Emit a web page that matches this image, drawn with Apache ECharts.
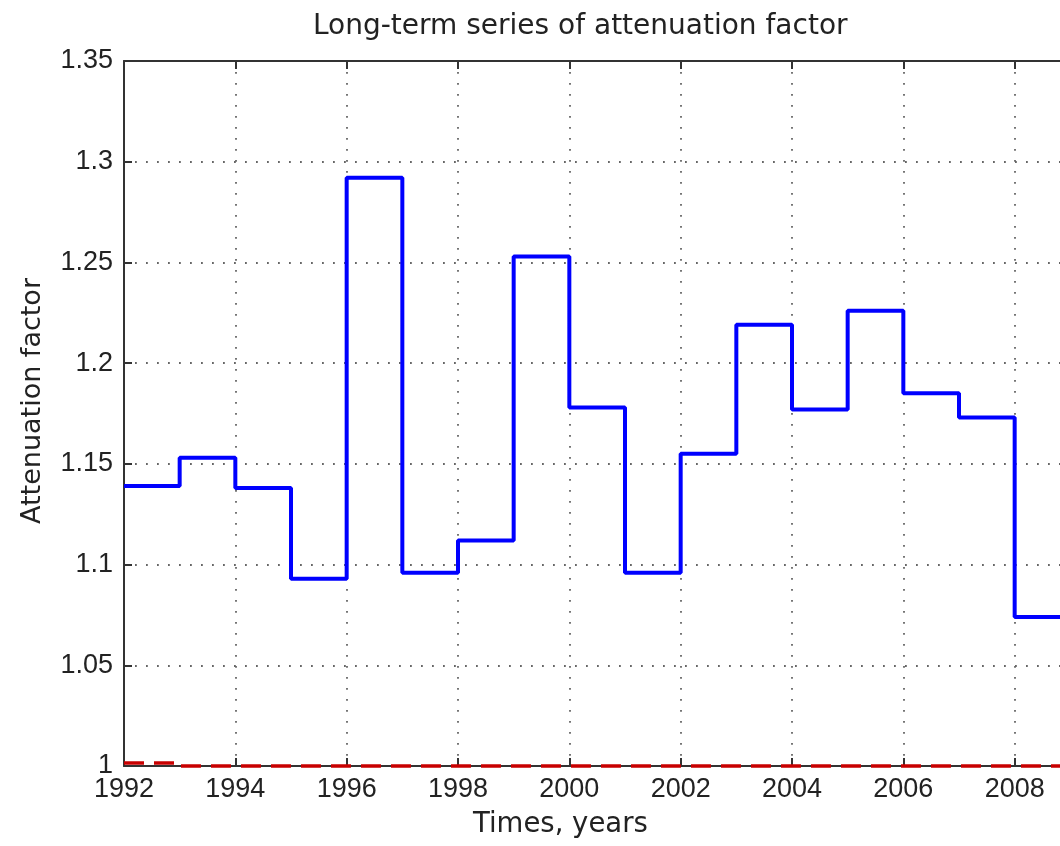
<!DOCTYPE html>
<html>
<head>
<meta charset="utf-8">
<script src="https://cdn.jsdelivr.net/npm/echarts@6/dist/echarts.min.js"></script>
<style>
  html, body { margin: 0; padding: 0; background: #fff; }
  #chart { width: 1060px; height: 846px; }
</style>
</head>
<body>
<div id="chart"></div>
<script>
// step start years (last entry closes the final step)
const years = [1992, 1993, 1994, 1995, 1996, 1997, 1998, 1999, 2000, 2001, 2002, 2003, 2004, 2005, 2006, 2007, 2008, 2010];
// attenuation factor for each yearly step
const attenuation = [1.139, 1.153, 1.138, 1.093, 1.292, 1.096, 1.112, 1.253, 1.178, 1.096, 1.155, 1.219, 1.177, 1.226, 1.185, 1.173, 1.074, 1.074];
// reference level (red dashed)
const reference = [1.0015, 1, 1, 1, 1, 1, 1, 1, 1, 1, 1, 1, 1, 1, 1, 1, 1, 1];

const titleText = 'Long-term series of attenuation factor';
const xName = 'Times, years';
const yName = 'Attenuation factor';

const chart = echarts.init(document.getElementById('chart'));

const axisColor = '#333';
const gridLine = { show: true, lineStyle: { color: '#666', width: 1.8, type: [1.8, 9.2] } };
const tickFont = { fontFamily: 'Liberation Sans', fontSize: 27, color: '#222' };

chart.setOption({
  backgroundColor: '#fff',
  animation: false,
  title: {
    text: titleText,
    left: 308,
    top: 8,
    textStyle: { fontFamily: 'DejaVu Sans', fontSize: 28, fontWeight: 'normal', color: '#222' },
  },
  grid: { left: 124, top: 61, bottom: 80, width: 1002, outerBoundsMode: 'none', containLabel: false },
  xAxis: [
    {
      type: 'value',
      min: 1992,
      max: 2010,
      interval: 2,
      axisLine: { lineStyle: { color: axisColor, width: 2 } },
      axisTick: { inside: true, length: 8, lineStyle: { color: axisColor, width: 2 } },
      axisLabel: { ...tickFont, margin: 10, lineHeight: 27, formatter: (v) => String(v) },
      splitLine: gridLine,
    },
    {
      type: 'value',
      position: 'top',
      min: 1992,
      max: 2010,
      interval: 2,
      axisLine: { lineStyle: { color: axisColor, width: 2 } },
      axisTick: { inside: true, length: 8, lineStyle: { color: axisColor, width: 2 } },
      axisLabel: { show: false },
      splitLine: { show: false },
    },
  ],
  yAxis: {
    type: 'value',
    min: 1,
    max: 1.35,
    interval: 0.05,
    axisLine: { show: true, lineStyle: { color: axisColor, width: 2 } },
    axisTick: { show: true, inside: true, length: 8, lineStyle: { color: axisColor, width: 2 } },
    axisLabel: { ...tickFont, margin: 11, formatter: (v) => String(parseFloat(v.toFixed(2))) },
    splitLine: gridLine,
  },
  graphic: [
    {
      type: 'text',
      left: 473,
      top: 811,
      style: { text: xName, font: '27.5px "DejaVu Sans"', fill: '#222' },
    },
    {
      type: 'text',
      x: 33,
      y: 401,
      rotation: Math.PI / 2,
      style: { text: yName, font: '27px "DejaVu Sans"', fill: '#222', align: 'center', verticalAlign: 'middle' },
    },
  ],
  series: [
    {
      type: 'line',
      step: 'end',
      clip: false,
      data: years.map((y, i) => [y, reference[i]]),
      showSymbol: false,
      lineStyle: { color: '#c80000', width: 3.5, type: [20, 10] },
      z: 3,
    },
    {
      type: 'line',
      step: 'end',
      data: years.map((y, i) => [y, attenuation[i]]),
      showSymbol: false,
      lineStyle: { color: '#0000ff', width: 4 },
      z: 4,
    },
  ],
});
</script>
</body>
</html>
